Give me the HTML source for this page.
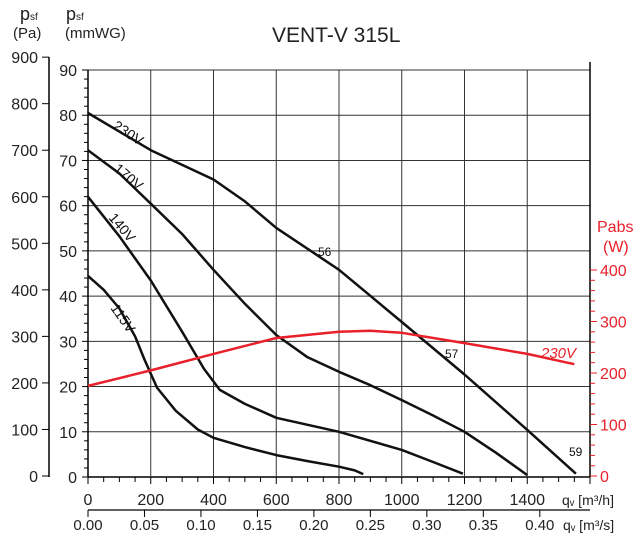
<!DOCTYPE html>
<html><head><meta charset="utf-8"><style>
body{margin:0;background:#fff}
svg{display:block;font-family:"Liberation Sans","DejaVu Sans",sans-serif}
</style></head><body>
<svg id="c" width="637" height="554"></svg>
<script>
const xTicks=[0,200,400,600,800,1000,1200,1400];
const paTicks=[0,100,200,300,400,500,600,700,800,900];
const mmTicks=[0,10,20,30,40,50,60,70,80,90];
const wTicks=[0,100,200,300,400];
const m3sTicks=["0.00","0.05","0.10","0.15","0.20","0.25","0.30","0.35","0.40"];
const q230=[0,200,400,500,600,800,1000,1200,1400,1555];
const p230=[780,700,637,590,533,443,331,218,99,5];
const q170=[0,100,200,300,400,500,600,700,800,900,1000,1100,1200,1300,1400];
const p170=[700,650,585,520,443,370,303,255,224,195,163,130,95,50,2];
const q140=[0,100,200,300,370,420,500,600,800,1000,1100,1195];
const p140=[600,515,420,310,230,185,155,125,95,56,30,5];
const q115=[0,50,100,150,180,220,280,350,400,500,600,700,800,850,877];
const p115=[430,400,360,300,250,190,140,100,82,62,45,32,20,12,4];
const qW=[0,200,400,600,800,900,1000,1200,1400,1550];
const w230=[175,205,237,268,280,282,278,258,237,217];

const X=q=>88+q*502/1600;
const YP=p=>476-p*0.4654;
const YM=m=>477-m*4.522;
const YW=w=>476-w*0.515;
const S=document.getElementById('c'),NS='http://www.w3.org/2000/svg';
function el(t,a,txt){const e=document.createElementNS(NS,t);for(const k in a)e.setAttribute(k,a[k]);if(txt!==undefined)e.textContent=txt;S.appendChild(e);return e;}
const RED='#e8202a';
// grid
mmTicks.forEach(m=>{if(m>0){const l=el('line',{x1:88,x2:590,y1:YM(m),y2:YM(m),stroke:'#333','stroke-width':1});
}});
xTicks.forEach(q=>{if(q>0){const l=el('line',{x1:X(q),x2:X(q),y1:70,y2:476,stroke:'#333','stroke-width':1});
}});
// axes
let a=el('line',{x1:88,x2:88,y1:70,y2:477,stroke:'#000','stroke-width':1.5});
a=el('line',{x1:88,x2:590,y1:477,y2:477,stroke:'#000','stroke-width':1.5});
a=el('line',{x1:590,x2:590,y1:62,y2:477,stroke:'#000','stroke-width':1.5});
a=el('line',{x1:49,x2:49,y1:57,y2:477,stroke:'#000','stroke-width':1.5});
for(let m=0;m<=90;m+=2){el('line',{x1:m%10?84:82,x2:88,y1:YM(m),y2:YM(m),stroke:'#000'});}
mmTicks.forEach(m=>{const t=el('text',{x:77,y:YM(m)+6,'text-anchor':'end','font-size':16,fill:'#222'},m);});
paTicks.forEach(p=>{el('line',{x1:42,x2:49,y1:YP(p),y2:YP(p),stroke:'#000'});
const t=el('text',{x:38,y:YP(p)+6,'text-anchor':'end','font-size':16,fill:'#222'},p);});
for(let q=0;q<=1600;q+=50){el('line',{x1:X(q),x2:X(q),y1:477,y2:q%200?482:484,stroke:'#000'});}
xTicks.forEach(q=>{const t=el('text',{x:X(q),y:505,'text-anchor':'middle','font-size':16,fill:'#222'},q);});
a=el('line',{x1:88,x2:590,y1:510,y2:510,stroke:'#000','stroke-width':1.2});
m3sTicks.forEach(v=>{const x=X(parseFloat(v)*3600);el('line',{x1:x,x2:x,y1:510,y2:517,stroke:'#000'});
const t=el('text',{x:x,y:530,'text-anchor':'middle','font-size':15,fill:'#222'},v);});
for(let w=0;w<=400;w+=20){el('line',{x1:590,x2:w%100?595:597,y1:YW(w),y2:YW(w),stroke:RED});}
wTicks.forEach(w=>{const t=el('text',{x:600,y:YW(w)+6,'font-size':16,fill:RED},w);});
// curves
function curve(qs,ps,fy,col,name){const d=qs.map((q,i)=>(i?'L':'M')+X(q).toFixed(1)+','+fy(ps[i]).toFixed(1)).join(' ');
const p=el('path',{d:d,fill:'none',stroke:col,'stroke-width':2.5,'stroke-linejoin':'round'});
}
curve(q230,p230,YP,'#111','curve-230v');curve(q170,p170,YP,'#111','curve-170v');
curve(q140,p140,YP,'#111','curve-140v');curve(q115,p115,YP,'#111','curve-115v');
curve(qW,w230,YW,RED,'power-curve-230v');
// labels
function lab(txt,x,y,rot,name,extra){const t=el('text',Object.assign({x:x,y:y,'font-size':14,fill:'#111',transform:'rotate('+rot+' '+x+' '+y+')'},extra||{}),txt);}
lab('230V',112,128,33,'label-230v');lab('170V',113,170,40,'label-170v');
lab('140V',108,218,50,'label-140v');lab('115V',110,308,55,'label-115v');
lab('56',318,256,0,'efficiency-56',{'font-size':12});lab('57',445,358,0,'efficiency-57',{'font-size':12});
lab('59',569,456,0,'efficiency-59',{'font-size':12});
lab('230V',541,358,0,'label-pabs-230v',{fill:RED,'font-style':'italic','font-size':15});
lab('VENT-V 315L',272,42,0,'chart-title',{'font-size':21,fill:'#222'});
lab('p',20,20,0,'pa-axis-symbol',{'font-size':18,fill:'#222'});lab('sf',30,20,0,'pa-axis-sub',{'font-size':10,fill:'#222'});
lab('(Pa)',13,38,0,'pa-axis-unit',{'font-size':15,fill:'#222'});
lab('p',66,20,0,'mmwg-axis-symbol',{'font-size':18,fill:'#222'});lab('sf',76,20,0,'mmwg-axis-sub',{'font-size':10,fill:'#222'});
lab('(mmWG)',65,38,0,'mmwg-axis-unit',{'font-size':15,fill:'#222'});
lab('Pabs',597,232,0,'pabs-axis-title',{'font-size':16,fill:RED});lab('(W)',603,252,0,'pabs-axis-unit',{'font-size':16,fill:RED});
lab('qᵥ [m³/h]',562,505,0,'x-axis-title',{'font-size':14,fill:'#222'});
lab('qᵥ [m³/s]',563,530,0,'m3s-axis-title',{'font-size':14,fill:'#222'});
</script>
</body></html>
